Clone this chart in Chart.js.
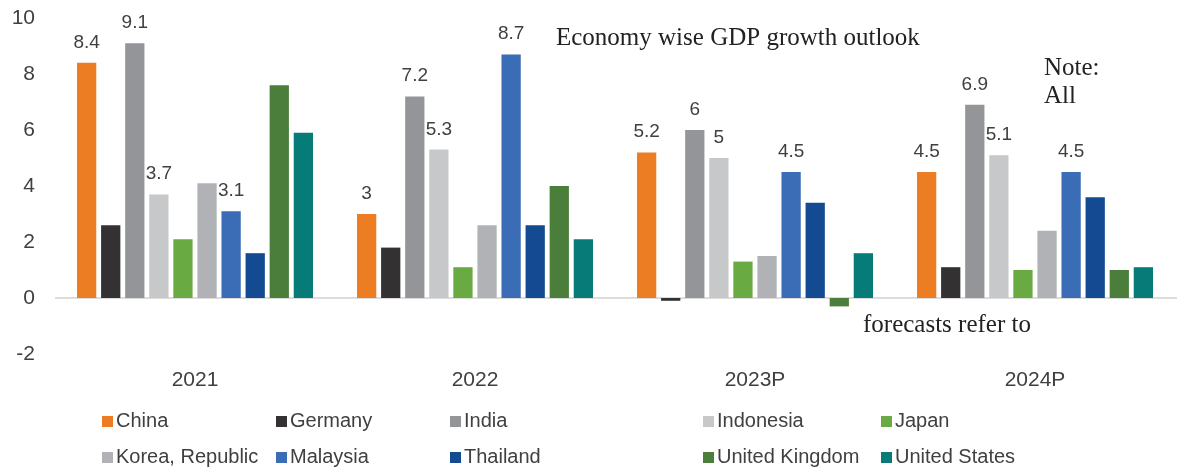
<!DOCTYPE html>
<html>
<head>
<meta charset="utf-8">
<script src="https://cdn.jsdelivr.net/npm/chart.js@4"></script>
<style>
  body { margin: 0; background: #fff; }
  #wrap { width: 1177px; height: 469px; }
</style>
</head>
<body>
<div id="wrap"><canvas id="chart" width="1177" height="469"></canvas></div>
<script>
const categories = ["2021", "2022", "2023P", "2024P"];

const china = [8.4, 3, 5.2, 4.5];
const germany = [2.6, 1.8, -0.1, 1.1];
const india = [9.1, 7.2, 6, 6.9];
const indonesia = [3.7, 5.3, 5, 5.1];
const japan = [2.1, 1.1, 1.3, 1.0];
const korea = [4.1, 2.6, 1.5, 2.4];
const malaysia = [3.1, 8.7, 4.5, 4.5];
const thailand = [1.6, 2.6, 3.4, 3.6];
const uk = [7.6, 4.0, -0.3, 1.0];
const us = [5.9, 2.1, 1.6, 1.1];

const yMin = -2;
const yMax = 10;
const yStep = 2;

const sans = "'Liberation Sans', Arial, sans-serif";
const serif = "'Liberation Serif', 'Times New Roman', serif";
const textColor = "#404040";

function series(label, data, color, showLabel) {
  return { label, data, backgroundColor: color, showLabel };
}

const datasets = [
  series("China", china, "#ED7D22", true),
  series("Germany", germany, "#333132", false),
  series("India", india, "#939598", true),
  series("Indonesia", indonesia, "#C7C8CA", true),
  series("Japan", japan, "#6AAA43", false),
  series("Korea, Republic", korea, "#B1B2B5", false),
  series("Malaysia", malaysia, "#3A6DB5", true),
  series("Thailand", thailand, "#134A92", false),
  series("United Kingdom", uk, "#4A7E3A", false),
  series("United States", us, "#077B78", false),
];

// zero line, value labels, legend and the loose text boxes
const extras = {
  id: "extras",
  beforeDatasetsDraw(chart) {
    const { ctx, chartArea, scales } = chart;
    const y0 = scales.y.getPixelForValue(0);
    ctx.save();
    ctx.strokeStyle = "#d0d0d0";
    ctx.lineWidth = 1.5;
    ctx.beginPath();
    ctx.moveTo(chartArea.left, y0);
    ctx.lineTo(chart.width, y0);
    ctx.stroke();
    ctx.restore();
  },
  afterDatasetsDraw(chart) {
    const ctx = chart.ctx;
    ctx.save();
    ctx.font = "19px " + sans;
    ctx.fillStyle = textColor;
    ctx.textAlign = "center";
    ctx.textBaseline = "alphabetic";
    chart.data.datasets.forEach((ds, i) => {
      if (!ds.showLabel) return;
      chart.getDatasetMeta(i).data.forEach((bar, j) => {
        ctx.fillText(String(ds.data[j]), bar.x, bar.y - 15);
      });
    });

    // legend, two rows of five
    const cols = [102, 276, 450, 703, 881];
    const rows = [421, 457];
    ctx.font = "20px " + sans;
    ctx.textAlign = "left";
    ctx.textBaseline = "middle";
    chart.data.datasets.forEach((ds, i) => {
      const x = cols[i % 5];
      const y = rows[Math.floor(i / 5)];
      ctx.fillStyle = ds.backgroundColor;
      ctx.fillRect(x, y - 5, 11, 11);
      ctx.fillStyle = textColor;
      ctx.fillText(ds.label, x + 14, y);
    });

    ctx.font = "25px " + serif;
    ctx.fillStyle = "#222";
    ctx.textBaseline = "alphabetic";
    ctx.fillText("Economy wise GDP growth outlook", 556, 45);
    ctx.fillText("Note:", 1044, 75);
    ctx.fillText("All", 1044, 103);
    ctx.fillText("forecasts refer to", 863, 332);
    ctx.restore();
  },
};

new Chart(document.getElementById("chart"), {
  type: "bar",
  data: { labels: categories, datasets },
  options: {
    responsive: false,
    animation: false,
    layout: { padding: { top: 18, right: 2, left: 0, bottom: 0 } },
    datasets: {
      bar: { categoryPercentage: 0.86, barPercentage: 0.8 },
    },
    plugins: {
      legend: { display: false },
      tooltip: { enabled: false },
    },
    scales: {
      x: {
        grid: { display: false, drawTicks: false },
        border: { display: false },
        ticks: { color: textColor, font: { family: sans, size: 21 }, padding: 14 },
        afterFit(scale) { scale.height = 115; },
      },
      y: {
        min: yMin,
        max: yMax,
        grid: { display: false, drawTicks: false },
        border: { display: false },
        ticks: { stepSize: yStep, color: textColor, font: { family: sans, size: 21 }, padding: 20 },
        afterFit(scale) {
          scale.width = 55;
          scale.paddingTop = 0;
          scale.paddingBottom = 0;
        },
      },
    },
  },
  plugins: [extras],
});
</script>
</body>
</html>
